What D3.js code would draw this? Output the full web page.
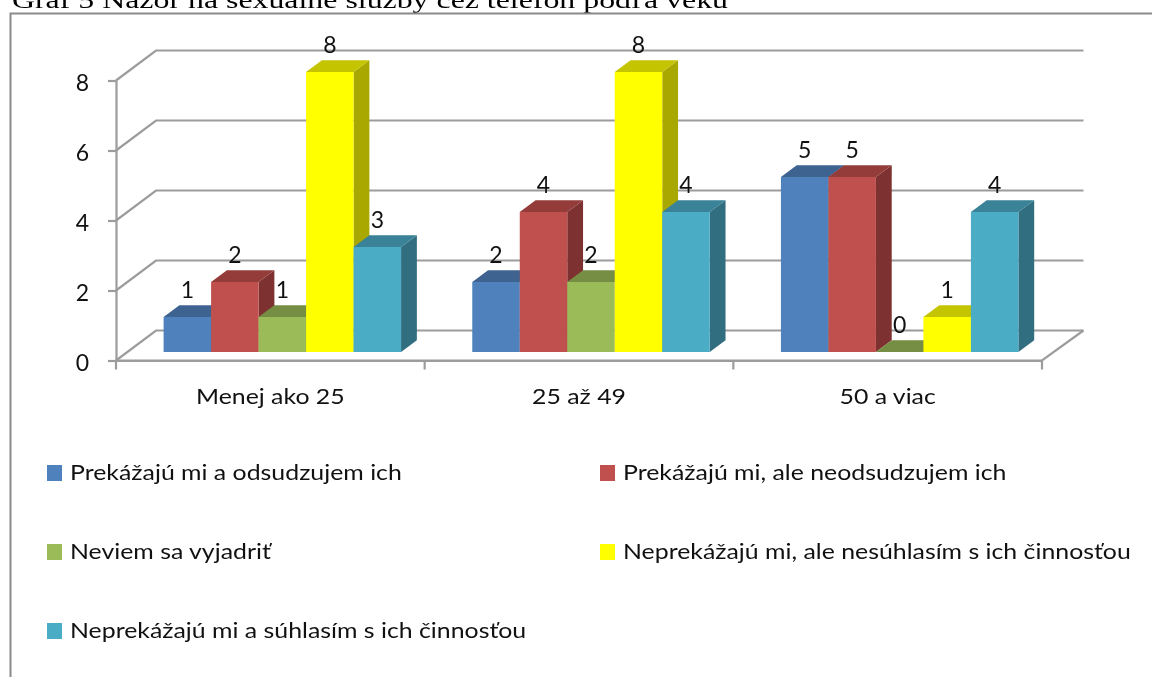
<!DOCTYPE html>
<html><head><meta charset="utf-8">
<script src="https://cdnjs.cloudflare.com/ajax/libs/d3/7.8.5/d3.min.js"></script>
<style>html,body{margin:0;padding:0;background:#fff;overflow:hidden}svg{display:block;filter:blur(0.45px)}text{font-family:Lato,Carlito,sans-serif;fill:#111}</style>
</head><body><svg id="c" width="1152" height="677"></svg>
<script>
const titleText = "Graf 5 Názor na sexuálne služby cez telefón podľa veku";
const categories = ["Menej ako 25", "25 až 49", "50 a viac"];
const seriesNames = ["Prekážajú mi a odsudzujem ich", "Prekážajú mi, ale neodsudzujem ich", "Neviem sa vyjadriť", "Neprekážajú mi, ale nesúhlasím s ich činnosťou", "Neprekážajú mi a súhlasím s ich činnosťou"];
const s1 = [1, 2, 5];
const s2 = [2, 4, 5];
const s3 = [1, 2, 0];
const s4 = [8, 8, 1];
const s5 = [3, 4, 4];
const yTicks = [0, 2, 4, 6, 8];
const fronts = ["#4f81bd", "#c0504d", "#9bbb59", "#ffff00", "#4bacc6"];
const tops = ["#3e6390", "#933c3a", "#768e43", "#c4c400", "#398297"];
const sides = ["#335378", "#7d3231", "#637839", "#a8a800", "#306e80"];
const allSeries = [s1, s2, s3, s4, s5];

const svg = d3.select("#c");
const W = { x0: 116, x1: 1042, y0: 360.5, y1: 80.5, dx: 40, dy: -30 };
const x = d3.scaleBand().domain(categories).range([W.x0, W.x1]);
const inner = d3.scaleBand().domain(d3.range(5)).range([47.6, x.bandwidth() - 23.6]);
const y = d3.scaleLinear().domain([0, 8]).range([W.y0, W.y1]);
const GRAY = "#9c9c9c";
const STRETCH = 1.13;

// title
svg.append("text").attr("x", 12).attr("y", 8).text(titleText)
  .attr("textLength", 716).attr("lengthAdjust", "spacingAndGlyphs")
  .style("font-family", "'Liberation Serif',serif").style("font-size", "24px").style("fill", "#000");

// outer frame
svg.append("path").attr("d", "M10.5,677V13.5H1152").attr("fill", "none").attr("stroke", "#8a8a8a").attr("stroke-width", 2);

// walls: gridlines
const wall = svg.append("g").attr("fill", "none").attr("stroke", GRAY).attr("stroke-width", 2.2);
yTicks.forEach(t => {
  const py = y(t);
  wall.append("path").attr("d", `M${W.x0},${py}L${W.x0 + W.dx},${py + W.dy}H${W.x1 + W.dx + 1.5}`);
});
wall.append("path").attr("d", `M${W.x0},${W.y0}H${W.x1}L${W.x1 + W.dx + 1.5},${W.y0 + W.dy}`);

// axes
const yAxis = d3.axisLeft(y).tickValues(yTicks).tickSize(8).tickPadding(19).tickSizeOuter(0);
const gy = svg.append("g").attr("transform", `translate(${W.x0},0)`).call(yAxis);
gy.selectAll("text").style("font-size", "23px").attr("dy", "0.42em");
const xAxis = d3.axisBottom(x).tickSize(0).tickPadding(36);
const gx = svg.append("g").attr("transform", `translate(0,${W.y0})`).call(xAxis);
gx.selectAll(".tick text").style("font-size", "22px").attr("dy", "0.32em")
  .attr("transform", `scale(${STRETCH},1)`).attr("x", 0);
gx.selectAll(".tick line").remove();
const boundaries = categories.map(c => x(c)).concat([W.x1]);
gx.selectAll("line.b").data(boundaries).enter().append("line").attr("class", "b")
  .attr("x1", d => d).attr("x2", d => d).attr("y1", 0).attr("y2", 9);
svg.selectAll(".domain,.tick line,line.b").attr("stroke", GRAY).attr("stroke-width", 2.2);

// bars
const baseY = 352, ddx = 15.8, ddy = -11.7;
const bars = svg.append("g");
const labels = svg.append("g");
categories.forEach((c, ci) => {
  allSeries.forEach((vals, si) => {
    const v = vals[ci];
    const bx = x(c) + inner(si), bw = inner.bandwidth();
    const h = W.y0 - y(v), ty = baseY - h;
    const p = pts => pts.map(q => q.join(",")).join(" ");
    bars.append("polygon").attr("fill", sides[si])
      .attr("points", p([[bx + bw, baseY], [bx + bw + ddx, baseY + ddy], [bx + bw + ddx, ty + ddy], [bx + bw, ty]]));
    bars.append("polygon").attr("fill", tops[si])
      .attr("points", p([[bx, ty], [bx + ddx, ty + ddy], [bx + bw + ddx, ty + ddy], [bx + bw, ty]]));
    bars.append("rect").attr("x", bx).attr("y", ty).attr("width", bw).attr("height", h).attr("fill", fronts[si]);
    labels.append("text").attr("x", bx + bw / 2).attr("y", ty - 27).attr("dy", "0.35em")
      .attr("text-anchor", "middle").style("font-size", "23px").text(v);
  });
});

// legend
const legendX = [47, 600], legendY = [473, 552, 631];
seriesNames.forEach((n, i) => {
  const lx = legendX[i % 2], ly = legendY[Math.floor(i / 2)];
  svg.append("rect").attr("x", lx).attr("y", ly - 8).attr("width", 15).attr("height", 16).attr("fill", fronts[i]);
  svg.append("text").attr("transform", `translate(${lx + 23},${ly}) scale(${STRETCH},1)`).attr("dy", "0.34em").style("font-size", "22px").text(n);
});
</script></body></html>
